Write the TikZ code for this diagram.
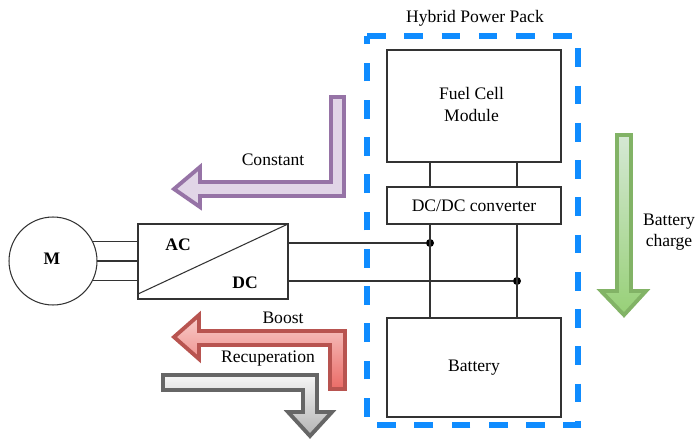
\documentclass[tikz,border=0pt]{standalone}
\usepackage{fontspec}
\setmainfont{Liberation Serif}
\usepackage{tikz}
\usetikzlibrary{calc}
\definecolor{packblue}{HTML}{0F8CFF}
\definecolor{purplefill}{HTML}{E1D5E7}
\definecolor{purpleline}{HTML}{9673A6}
\definecolor{redtop}{HTML}{F8CECC}
\definecolor{redbot}{HTML}{EA6B66}
\definecolor{redline}{HTML}{B85450}
\definecolor{greentop}{HTML}{D5E8D4}
\definecolor{greenbot}{HTML}{97D077}
\definecolor{greenline}{HTML}{82B366}
\definecolor{graytop}{HTML}{F5F5F5}
\definecolor{graybot}{HTML}{B3B3B3}
\definecolor{grayline}{HTML}{666666}
\tikzset{l/.style={font=\fontsize{10}{12}\selectfont, inner sep=0pt, align=center}}
\tikzset{b/.style={font=\fontsize{10}{12}\selectfont\bfseries, inner sep=0pt}}
\tikzset{box/.style={draw=black!80, line width=.6pt, l, outer sep=0pt}}
\tikzset{wire/.style={draw=black!80, line width=.6pt}}
\tikzset{dot/.style={circle, fill=black, inner sep=0pt, minimum size=.16cm}}
\tikzset{flow/.style={line width=2.2pt, miter limit=10}}
\newcommand{\constantarrow}{
  \draw[flow, draw=purpleline, fill=purplefill] (331,97) -- (344,97) -- (344,196)
    -- (200,196) -- (200,207) -- (174,189) -- (200,167) -- (200,182) -- (331,182) -- cycle;
}
\newcommand{\boostarrow}{
  \draw[flow, draw=redline, top color=redtop, bottom color=redbot] (345,389) -- (330,389)
    -- (330,345) -- (199,345) -- (199,359) -- (174,337) -- (199,315) -- (199,331)
    -- (345,331) -- cycle;
}
\newcommand{\recuparrow}{
  \draw[flow, draw=grayline, top color=graytop, bottom color=graybot] (163,375) -- (317,375)
    -- (317,412) -- (332,412) -- (310,436) -- (288,412) -- (303,412) -- (303,390)
    -- (163,390) -- cycle;
}
\newcommand{\chargearrow}{
  \draw[flow, draw=greenline, top color=greentop, bottom color=greenbot] (617,135) -- (631,135)
    -- (631,291) -- (646,291) -- (624,315) -- (601,291) -- (617,291) -- cycle;
}
\begin{document}
\begin{tikzpicture}[x=.02cm, y=-.02cm]
    \useasboundingbox (0,0) rectangle (695,439);
    % pack outline
    \draw[packblue, line width=3.4pt, dash pattern=on 10.6pt off 10.6pt]
      (367,36) -- (578,36) -- (578,425) -- (367,425) -- cycle;
    \node[l] (pack) at (475,18) {Hybrid Power Pack};
    \node[box, minimum width=3.48cm, minimum height=2.24cm] (fuel) at (474,106) {};
    \node[l] (fueltext) at (471.5,104.5) {Fuel Cell\\Module};
    \node[box, minimum width=3.48cm, minimum height=.74cm] (conv) at (474,205.5) {DC/DC converter};
    \node[box, minimum width=3.48cm, minimum height=1.98cm] (batt) at (474,367.5) {Battery};
    \node[dot] (ja) at (430,243) {};
    \node[dot] (jb) at (517,281) {};
    \node[box, minimum width=3cm, minimum height=1.5cm] (inv) at (213,261.5) {};
    \node[b] (ac) at (178,245) {AC};
    \node[b] (dc) at (245,283) {DC};
    \node[circle, draw=black!80, line width=.6pt, minimum size=1.76cm, outer sep=0pt] (motor) at (53,261) {};
    \node[b] (mlabel) at (52,259) {M};
    % wires
    \draw[wire] (inv.south west) ++(0,-5) -- (inv.north east);
    \draw[wire] (motor.26) -- (motor.26 -| inv.west);
    \draw[wire] (motor.east) -- (motor.east -| inv.west);
    \draw[wire] (motor.-26) -- (motor.-26 -| inv.west);
    \draw[wire] (ja -| inv.east) -- (ja);
    \draw[wire] (jb -| inv.east) -- (jb);
    \draw[wire] (ja |- fuel.south) -- (ja |- conv.north);
    \draw[wire] (jb |- fuel.south) -- (jb |- conv.north);
    \draw[wire] (ja |- conv.south) -- (ja |- batt.north);
    \draw[wire] (jb |- conv.south) -- (jb |- batt.north);
    % flows
    \constantarrow
    \boostarrow
    \recuparrow
    \chargearrow
    \node[l] (constant) at (273,160) {Constant};
    \node[l] (boost) at (283,318) {Boost};
    \node[l] (recup) at (268,359) {Recuperation};
    \node[l] (charge) at (669,232) {Battery\\charge};
  \end{tikzpicture}
\end{document}
